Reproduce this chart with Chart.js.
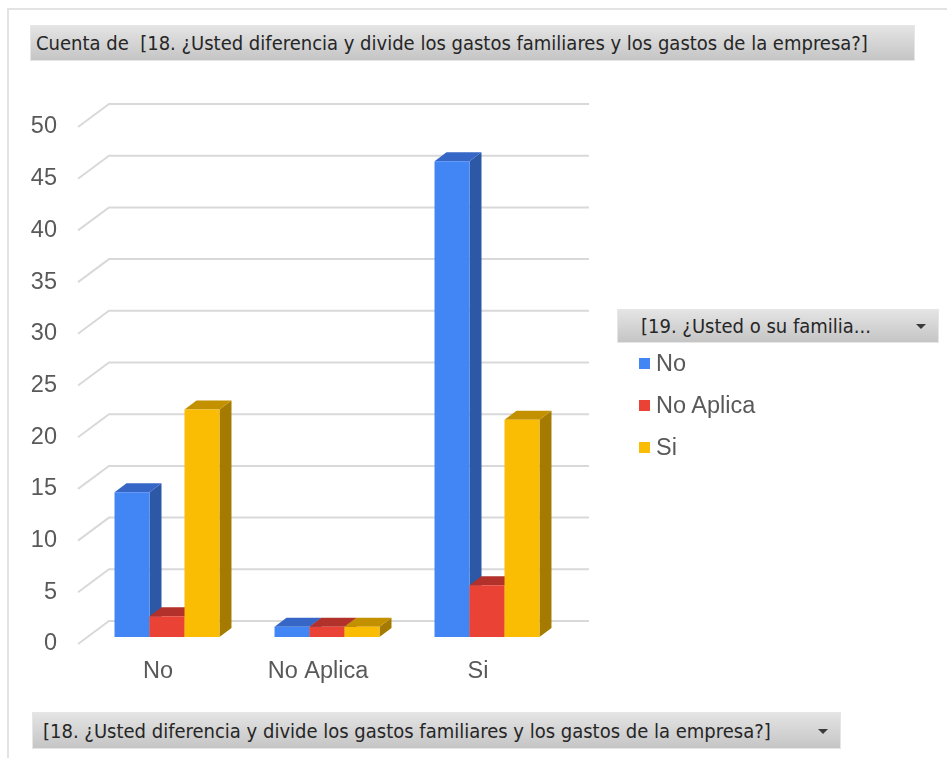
<!DOCTYPE html>
<html>
<head>
<meta charset="utf-8">
<script src="https://cdn.jsdelivr.net/npm/chart.js@4/dist/chart.umd.min.js"></script>
<style>
  html, body { margin: 0; padding: 0; background: #fff; }
  #wrap { position: relative; width: 947px; height: 758px; overflow: hidden; }
  #frame { position: absolute; left: 7px; top: 8px; right: -4px; bottom: -4px;
           border-left: 2px solid #e3e3e3; border-top: 2px solid #e3e3e3; }
  canvas { position: absolute; left: 0; top: 0; }
  .field { position: absolute; box-sizing: border-box; border: 1px solid #e6e6e6;
           background: linear-gradient(#e4e4e4, #c5c5c5);
           font-family: "Liberation Sans Narrow", "DejaVu Sans Condensed", sans-serif;
           font-size: 20px; color: #262626; white-space: nowrap; }
  .field span { position: absolute; left: 5px; top: 50%; transform: translateY(-52%); }
  .arrow { position: absolute; top: 50%; margin-top: -2px; width: 0; height: 0;
           border-left: 5px solid transparent; border-right: 5px solid transparent;
           border-top: 5px solid #3a3a3a; }
  #legend { position: absolute; left: 638px; top: 348px;
            font-family: "Liberation Sans", Arial, sans-serif; font-size: 23.5px; color: #595959; }
  #legend div { height: 42px; line-height: 30px; position: relative; padding-left: 18px; }
  #legend i { position: absolute; left: 1px; top: 10px; width: 11px; height: 11px; }
</style>
</head>
<body>
<div id="wrap">
  <div id="frame"></div>
  <canvas id="chart" width="947" height="758"></canvas>
  <div class="field" style="left:30px; top:25px; width:885px; height:36px;">
    <span>Cuenta de&nbsp; [18. ¿Usted diferencia y divide los gastos familiares y los gastos de la empresa?]</span>
  </div>
  <div class="field" style="left:617px; top:309px; width:322px; height:34px;">
    <span style="left:23px">[19. ¿Usted o su familia...</span>
    <div class="arrow" style="right:12px"></div>
  </div>
  <div class="field" style="left:32px; top:712px; width:809px; height:37px;">
    <span style="left:10px">[18. ¿Usted diferencia y divide los gastos familiares y los gastos de la empresa?]</span>
    <div class="arrow" style="right:12px"></div>
  </div>
  <div id="legend"></div>
</div>
<script>
// categories and series counts
const categories = ['No', 'No Aplica', 'Si'];
const seriesNames = ['No', 'No Aplica', 'Si'];
const seriesNo = [14, 1, 46];
const seriesNoAplica = [2, 1, 5];
const seriesSi = [22, 1, 21];
const yTicks = [0, 5, 10, 15, 20, 25, 30, 35, 40, 45, 50];

// front / top / side shades per series
const faceColors = [
    { front: '#4285f4', top: '#3767c6', side: '#2c58a6' },
    { front: '#ea4335', top: '#b2312a', side: '#a12b22' },
    { front: '#fbbc04', top: '#c39000', side: '#a47b00' }
];

// depth of the plot box and position of the bars inside it
const DEPTH = { dx: 31, dy: -23 };
const BAR_FRONT = { dx: 9, dy: -7 };
const BAR_DEPTH = { dx: 12, dy: -9 };

const poly = (ctx, pts, color) => {
    ctx.beginPath();
    ctx.moveTo(pts[0][0], pts[0][1]);
    for (let k = 1; k < pts.length; k++) ctx.lineTo(pts[k][0], pts[k][1]);
    ctx.closePath();
    ctx.fillStyle = color;
    ctx.fill();
};

// gridlines + 3D columns drawn from the bar elements
const columns3d = {
    id: 'columns3d',
    beforeDatasetsDraw(chart) {
        const ctx = chart.ctx;
        const y = chart.scales.y;
        const { left, right } = chart.chartArea;
        ctx.save();
        ctx.strokeStyle = '#d9d9d9';
        ctx.lineWidth = 2;
        yTicks.forEach(v => {
            const py = y.getPixelForValue(v);
            ctx.beginPath();
            ctx.moveTo(left, py);
            ctx.lineTo(left + DEPTH.dx, py + DEPTH.dy);
            ctx.lineTo(right + DEPTH.dx, py + DEPTH.dy);
            ctx.stroke();
        });

        const n = chart.data.labels.length;
        for (let i = 0; i < n; i++) {
            chart.data.datasets.forEach((ds, d) => {
                const bar = chart.getDatasetMeta(d).data[i];
                const c = faceColors[d];
                const x1 = bar.x - bar.width / 2 + BAR_FRONT.dx;
                const x2 = bar.x + bar.width / 2 + BAR_FRONT.dx;
                const yt = bar.y + BAR_FRONT.dy;
                const yb = bar.base + BAR_FRONT.dy;
                const bx = BAR_DEPTH.dx, by = BAR_DEPTH.dy;
                poly(ctx, [[x2, yt], [x2 + bx, yt + by], [x2 + bx, yb + by], [x2, yb]], c.side);
                poly(ctx, [[x1, yt], [x1 + bx, yt + by], [x2 + bx, yt + by], [x2, yt]], c.top);
                poly(ctx, [[x1, yt], [x2, yt], [x2, yb], [x1, yb]], c.front);
            });
        }
        ctx.restore();
    },
    beforeDatasetDraw() {
        return false;
    }
};

const tickFont = { family: '"Liberation Sans", Arial, sans-serif', size: 23.5 };

const chart = new Chart(document.getElementById('chart'), {
    type: 'bar',
    data: {
        labels: categories,
        datasets: [
            { label: seriesNames[0], data: seriesNo, backgroundColor: faceColors[0].front },
            { label: seriesNames[1], data: seriesNoAplica, backgroundColor: faceColors[1].front },
            { label: seriesNames[2], data: seriesSi, backgroundColor: faceColors[2].front }
        ]
    },
    options: {
        responsive: false,
        animation: false,
        events: [],
        categoryPercentage: 0.656,
        barPercentage: 1,
        layout: { padding: { left: 0, right: 389, top: 127, bottom: 0 } },
        plugins: {
            legend: { display: false },
            tooltip: { enabled: false }
        },
        scales: {
            x: {
                grid: { display: false, drawTicks: false },
                border: { display: false },
                ticks: { color: '#595959', padding: 13, font: tickFont },
                afterFit: s => { s.height = 114; }
            },
            y: {
                min: 0,
                max: 50,
                grid: { display: false, drawTicks: false },
                border: { display: false },
                ticks: { stepSize: 5, color: '#595959', padding: 21, font: tickFont },
                afterFit: s => { s.width = 78; }
            }
        }
    },
    plugins: [columns3d]
});

// legend entries built from the datasets
const legend = document.getElementById('legend');
chart.data.datasets.forEach(ds => {
    const row = document.createElement('div');
    const sw = document.createElement('i');
    sw.style.background = ds.backgroundColor;
    row.appendChild(sw);
    row.appendChild(document.createTextNode(ds.label));
    legend.appendChild(row);
});
</script>
</body>
</html>
